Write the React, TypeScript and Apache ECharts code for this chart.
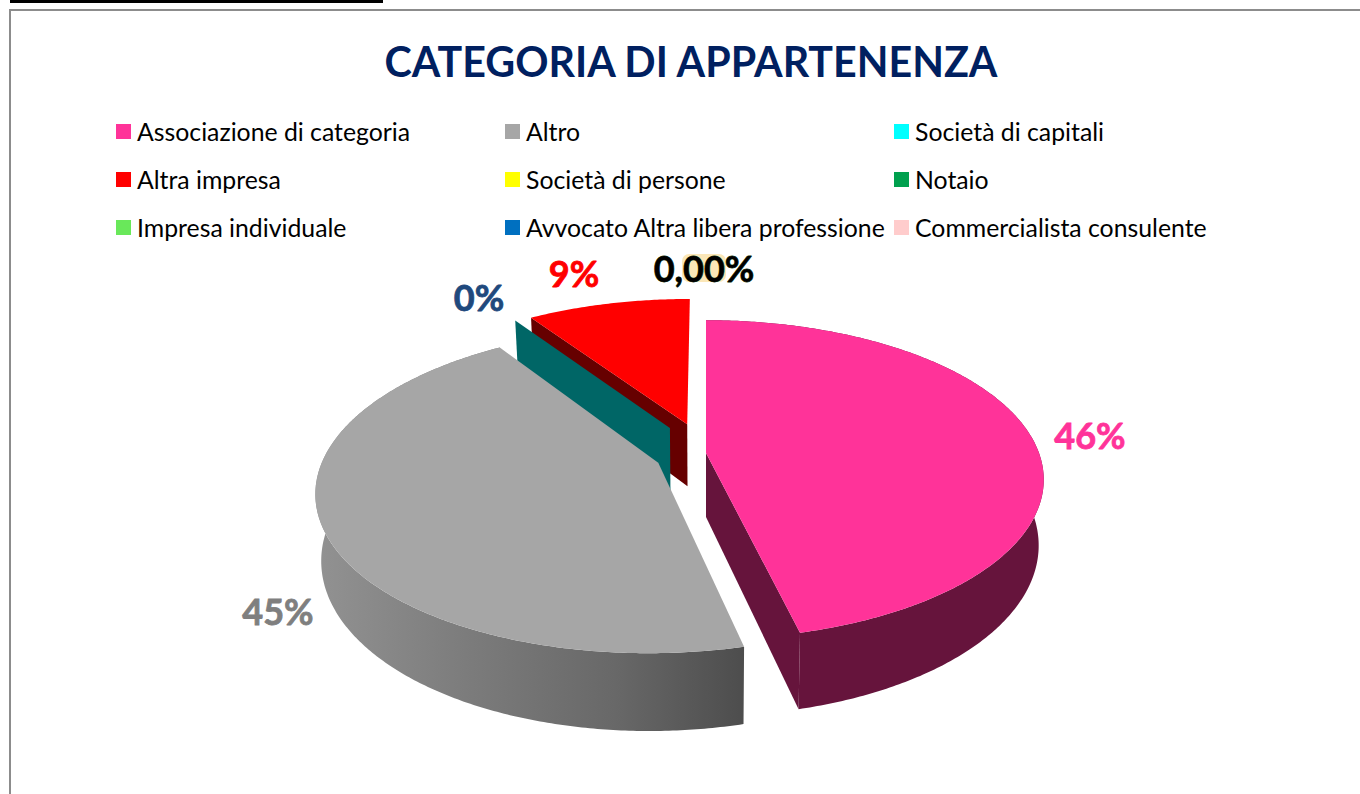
import React, { useEffect, useRef } from "react";
import * as echarts from "echarts";

const TITLE = "CATEGORIA DI APPARTENENZA";
const categories = [
  "Associazione di categoria",
  "Altro",
  "Società di capitali",
  "Altra impresa",
  "Società di persone",
  "Notaio",
  "Impresa individuale",
  "Avvocato Altra libera professione",
  "Commercialista consulente",
];
const values = [46.2, 44.4, 0, 9.4, 0, 0, 0, 0, 0];
const pointLabels = ["46%", "45%", "0%", "9%", "0,00%", "", "", "", ""];
const colors = ["#FF3399", "#A6A6A6", "#00FFFF", "#FF0000", "#FFFF00", "#00A04E", "#69E85A", "#0070C0", "#FFCCCC"];
const explosion = [0, 0.155, 0.2, 0.2, 0, 0, 0, 0, 0];

const labelColors = ["#FF3399", "#7F7F7F", "#1F497D", "#FF0000", "#000000", "", "", "", ""];
const labelBorders = ["#FF3399", "#7F7F7F", "#1F497D", "#FF0000", "#0B3300", "", "", "", ""];
const labelPositions: ([number, number] | null)[] = [
  [1090, 435], [278, 611], [479, 297], [574, 273], [704, 268], null, null, null, null,
];
const drawOrder = [4, 6, 5, 3, 7, 8, 9, 10, 11];

// projection of the pie plane, with perspective
const CX = 706, CY = 453, RX = 333, RY = 155, PERSP = 0.167, DEPTH = 64, BOTTOM_SCALE = 0.985;
const FONT = "Lato";

const total = values.reduce((a, b) => a + b, 0);
const project = (u: number, v: number, low = false): number[] => {
  const s = 1 / (1 - PERSP * v);
  let x = RX * u * s;
  let y = CY + RY * v * s;
  if (low) { x *= BOTTOM_SCALE; y += DEPTH * s; }
  return [CX + x, y];
};

const renderItem = (params: any, api: any) => {
  const i = params.seriesIndex;
  const value = api.value(0);
  const before = values.slice(0, i).reduce((a, b) => a + b, 0);
  const start = (before / total) * Math.PI * 2;
  const end = ((before + value) / total) * Math.PI * 2;
  const mid = (start + end) / 2;
  const e = explosion[i];
  const au = Math.sin(mid) * e, av = -Math.cos(mid) * e;
  const children: any[] = [];
  const arc: number[][] = [];
  if (value > 0) {
    const steps = Math.max(2, Math.ceil((end - start) / 0.01));
    for (let k = 0; k <= steps; k++) {
      const t = start + ((end - start) * k) / steps;
      arc.push([au + Math.sin(t), av - Math.cos(t)]);
    }
    // outer wall: only the slices whose rim faces the viewer
    if (i <= 1) {
      const wall = [
        ...arc.map((p) => project(p[0], p[1])),
        ...arc.slice().reverse().map((p) => project(p[0], p[1], true)),
      ];
      const wallFill =
        i === 1
          ? new echarts.graphic.LinearGradient(0, 0, 1, 0, [
              { offset: 0, color: "#929292" },
              { offset: 0.35, color: "#7C7C7C" },
              { offset: 0.7, color: "#686868" },
              { offset: 1, color: "#4D4D4D" },
            ])
          : "#66143C";
      children.push({ type: "polygon", shape: { points: wall }, style: { fill: wallFill } });
    }
  }
  if (value > 0 || e > 0) {
    // cut face that looks toward the viewer
    const t = i === 0 ? end : start;
    const cu = au + Math.sin(t), cv = av - Math.cos(t);
    if (i !== 1) {
      children.push({
        type: "polygon",
        shape: {
          points: [project(au, av), project(cu, cv), project(cu, cv, true), project(au, av, true)],
        },
        style: { fill: i === 0 ? "#66143C" : i === 2 ? "#006666" : "#660000" },
      });
    }
  }
  if (value > 0) {
    children.push({
      type: "polygon",
      shape: { points: [project(au, av), ...arc.map((p) => project(p[0], p[1]))] },
      style: { fill: colors[i] },
    });
  }
  const pos = labelPositions[i];
  if (pos) {
    if (pointLabels[i] === "0,00%") {
      children.push({
        type: "rect",
        shape: { x: pos[0] - 22, y: pos[1] - 14, width: 44, height: 28, r: 7 },
        style: { fill: "#FBE7B8" },
      });
    }
    children.push({
      type: "text",
      style: {
        x: pos[0], y: pos[1], text: pointLabels[i], fill: labelColors[i],
        font: `bold 36px ${FONT}`, align: "center", verticalAlign: "middle",
        stroke: labelBorders[i], lineWidth: 0.8,
      },
    });
  }
  return { type: "group", children };
};

const legendColumn = (names: string[], left: number) => ({
  show: true, orient: "vertical", left, top: 119, padding: 0,
  itemWidth: 15, itemHeight: 15, itemGap: 23, icon: "rect", selectedMode: false,
  data: names,
  textStyle: { fontFamily: FONT, fontSize: 24.8, color: "#000000", padding: [0, 0, 0, 1] },
});

export default function App() {
  const ref = useRef<HTMLDivElement>(null);
  useEffect(() => {
    document.body.style.margin = "0";
    const chart = echarts.init(ref.current!, null, { renderer: "svg" });
    chart.setOption({
      animation: false,
      backgroundColor: "#FFFFFF",
      title: {
        text: TITLE, left: 686, top: 35, textAlign: "center",
        textStyle: { fontFamily: FONT, fontSize: 41.2, fontWeight: "bold", color: "#002060" },
      },
      legend: [
        legendColumn([categories[0], categories[3], categories[6]], 116),
        legendColumn([categories[1], categories[4], categories[7]], 505),
        legendColumn([categories[2], categories[5], categories[8]], 894),
      ],
      graphic: [
        { type: "rect", shape: { x: 10, y: 0, width: 373, height: 3 }, style: { fill: "#000000" } },
        { type: "rect", shape: { x: 9, y: 9, width: 1351, height: 2 }, style: { fill: "#8C8C8C" } },
        { type: "rect", shape: { x: 9, y: 9, width: 2, height: 785 }, style: { fill: "#8C8C8C" } },
      ],
      series: categories.map((name, i) => ({
        type: "custom",
        name,
        coordinateSystem: "none",
        z: drawOrder[i],
        silent: true,
        itemStyle: { color: colors[i] },
        renderItem,
        data: [[values[i]]],
      })),
    });
    return () => chart.dispose();
  }, []);
  return <div ref={ref} style={{ position: "absolute", left: 0, top: 0, width: 1360, height: 794 }} />;
}
